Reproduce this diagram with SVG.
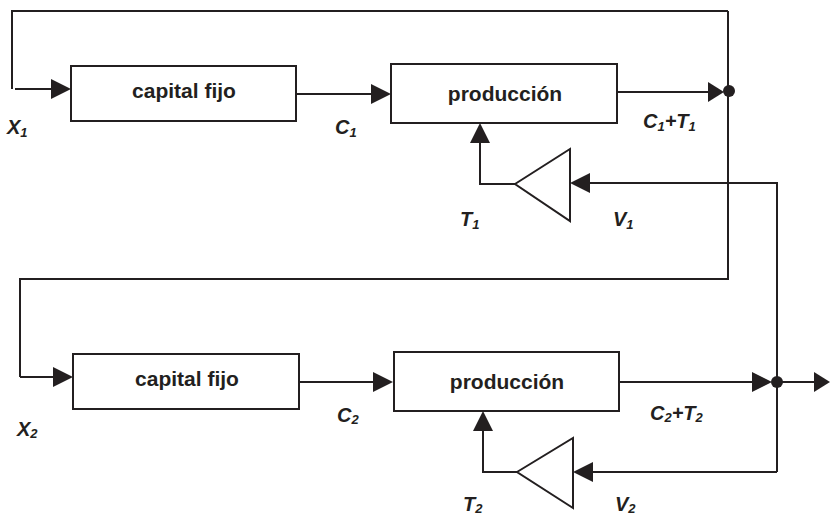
<svg xmlns="http://www.w3.org/2000/svg" width="831" height="516" viewBox="0 0 831 516">
<style>
.ln{fill:none;stroke:#231f20;stroke-width:2}
.box{fill:#fff;stroke:#231f20;stroke-width:2}
.ah{fill:#231f20}
.t{font-family:"Liberation Sans",Arial,sans-serif;font-weight:bold;font-size:21px;fill:#231f20;text-anchor:middle}
.lb{font-family:"Liberation Sans",Arial,sans-serif;font-weight:bold;font-style:italic;font-size:20px;fill:#231f20}
.sb{font-size:13px}
</style>
<rect width="831" height="516" fill="#fff"/>
<g id="connectors">
<polyline class="ln" points="728,11 12,11 12,89"/>
<line class="ln" x1="15" y1="89" x2="55" y2="89"/>
<polygon class="ah" points="51,79 71,89 51,99"/>
<line class="ln" x1="297" y1="94" x2="375" y2="94"/>
<polygon class="ah" points="371,84 391,94 371,104"/>
<line class="ln" x1="617" y1="92" x2="712" y2="92"/>
<polygon class="ah" points="708,82 724,92 708,102"/>
<polyline class="ln" points="728,11 728,279 20,279 20,377"/>
<line class="ln" x1="20" y1="377" x2="57" y2="377"/>
<polygon class="ah" points="53,367 73,377 53,387"/>
<polyline class="ln" points="515,184 480,184 480,140"/>
<polygon class="ah" points="470,143 480,123 490,143"/>
<polyline class="ln" points="777,472 777,183 586,183"/>
<polygon class="ah" points="590,173 570,183 590,193"/>
<line class="ln" x1="299" y1="382" x2="377" y2="382"/>
<polygon class="ah" points="373,372 393,382 373,392"/>
<line class="ln" x1="619" y1="382" x2="756" y2="382"/>
<polygon class="ah" points="752,372 772,382 752,392"/>
<line class="ln" x1="777" y1="382" x2="818" y2="382"/>
<polygon class="ah" points="814,372 830,382 814,392"/>
<polyline class="ln" points="517,472 483,472 483,428"/>
<polygon class="ah" points="473,431 483,411 493,431"/>
<line class="ln" x1="777" y1="472" x2="589" y2="472"/>
<polygon class="ah" points="593,462 573,472 593,482"/>
<circle class="ah" cx="729" cy="91" r="6"/>
<circle class="ah" cx="777" cy="382" r="6"/>
</g>
<g id="capital1">
<rect class="box" x="71" y="66" width="225" height="55"/>
<text class="t" x="184" y="98">capital fijo</text>
</g>
<g id="produccion1">
<rect class="box" x="391" y="64" width="226" height="59"/>
<text class="t" x="505" y="101">producción</text>
</g>
<g id="amp1">
<polygon class="box" points="515,184 570,149 570,221"/>
</g>
<g id="capital2">
<rect class="box" x="73" y="354" width="226" height="55"/>
<text class="t" x="187" y="386">capital fijo</text>
</g>
<g id="produccion2">
<rect class="box" x="394" y="352" width="225" height="59"/>
<text class="t" x="507" y="389">producción</text>
</g>
<g id="amp2">
<polygon class="box" points="517,472 573,438 573,508"/>
</g>
<g id="labels">
<text class="lb" x="7" y="134">X<tspan class="sb" dy="3">1</tspan></text>
<text class="lb" x="335" y="134">C<tspan class="sb" dy="3">1</tspan></text>
<text class="lb" x="643" y="128">C<tspan class="sb" dy="3">1</tspan><tspan dy="-3">+T</tspan><tspan class="sb" dy="3">1</tspan></text>
<text class="lb" x="460" y="226">T<tspan class="sb" dy="3">1</tspan></text>
<text class="lb" x="613" y="226">V<tspan class="sb" dy="3">1</tspan></text>
<text class="lb" x="17" y="436">X<tspan class="sb" dy="2">2</tspan></text>
<text class="lb" x="337" y="422">C<tspan class="sb" dy="2">2</tspan></text>
<text class="lb" x="650" y="420">C<tspan class="sb" dy="2">2</tspan><tspan dy="-2">+T</tspan><tspan class="sb" dy="2">2</tspan></text>
<text class="lb" x="463" y="511">T<tspan class="sb" dy="2">2</tspan></text>
<text class="lb" x="615" y="511">V<tspan class="sb" dy="2">2</tspan></text>
</g>
</svg>
